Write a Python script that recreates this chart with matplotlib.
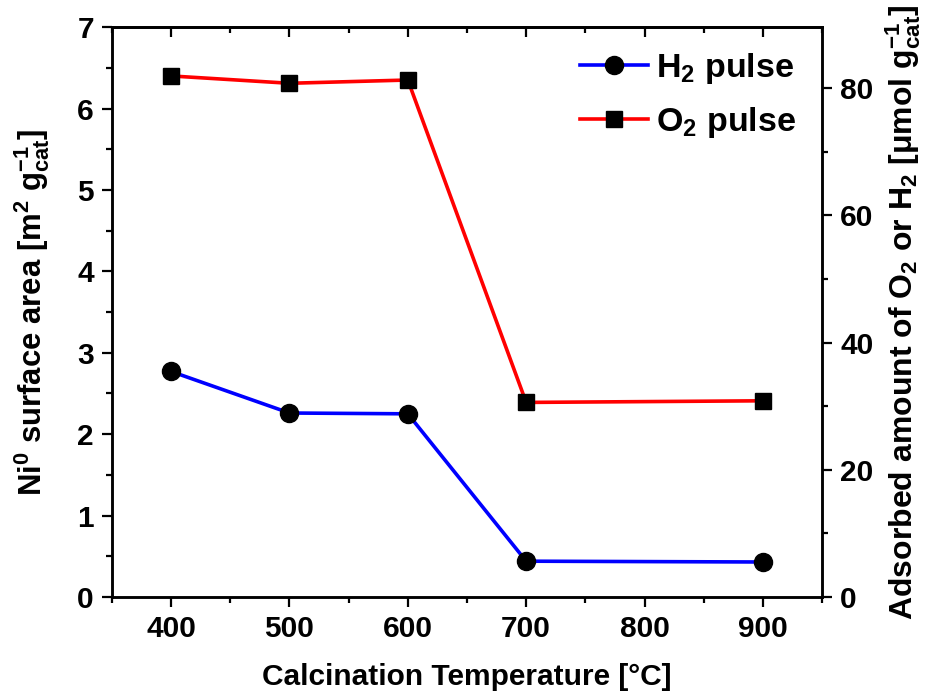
import numpy as np
import matplotlib.pyplot as plt
from matplotlib.ticker import MultipleLocator

# Calcination temperatures (degC)
temps = [400, 500, 600, 700, 900]
# Ni0 surface area read on the left axis [m2 g_cat^-1]
h2_pulse = [2.77, 2.26, 2.25, 0.44, 0.43]
o2_pulse = [6.40, 6.31, 6.35, 2.39, 2.41]

# right axis is the left one scaled (adsorbed amount, umol g_cat^-1)
scale = 12.8

plt.rcParams['font.family'] = ['Liberation Sans', 'DejaVu Sans']
plt.rcParams['font.weight'] = 'bold'
plt.rcParams['mathtext.default'] = 'regular'

fig = plt.figure(figsize=(9.3, 6.95), dpi=100)
ax = fig.add_axes([0.1204, 0.141, 0.7635, 0.820])

ax.plot(temps, h2_pulse, '-o', color='blue', lw=2.6, ms=13,
        mfc='black', mec='black', label='H$_2$ pulse')
ax.plot(temps, o2_pulse, '-s', color='red', lw=2.6, ms=12,
        mfc='black', mec='black', label='O$_2$ pulse')

ax.set_xlim(350, 950)
ax.set_ylim(0, 7)
ax.xaxis.set_major_locator(MultipleLocator(100))
ax.xaxis.set_minor_locator(MultipleLocator(50))
ax.yaxis.set_major_locator(MultipleLocator(1))
ax.yaxis.set_minor_locator(MultipleLocator(0.5))
ax.tick_params(which='major', direction='out', length=7, width=1.6,
               labelsize=21.5, pad=6)
ax.tick_params(which='minor', direction='out', length=4, width=1.6)

ax.set_xlabel('Calcination Temperature [°C]', fontsize=21.5,
              fontweight='bold', labelpad=14)
ax.set_ylabel('Ni$^0$ surface area [m$^2$ g$_{cat}^{-1}$]', fontsize=22.4,
              fontweight='bold', labelpad=18)

# top axis ticks point inward
top = ax.secondary_xaxis('top')
top.xaxis.set_major_locator(MultipleLocator(100))
top.xaxis.set_minor_locator(MultipleLocator(50))
top.tick_params(which='major', direction='in', length=7, width=1.6,
                labeltop=False)
top.tick_params(which='minor', direction='in', length=4, width=1.6)
top.spines['top'].set_linewidth(1.8)

ax2 = ax.twinx()
ax2.set_ylim(0, 7 * scale)
ax2.yaxis.set_major_locator(MultipleLocator(20))
ax2.yaxis.set_minor_locator(MultipleLocator(10))
ax2.tick_params(which='major', direction='out', length=7, width=1.6,
                labelsize=21.5, pad=6)
ax2.tick_params(which='minor', direction='out', length=4, width=1.6)
ax2.set_ylabel('Adsorbed amount of O$_2$ or H$_2$ [μmol g$_{cat}^{-1}$]',
               fontsize=23, fontweight='bold', labelpad=7)

for a in (ax, ax2):
    for s in a.spines.values():
        s.set_linewidth(1.8)

for lbl in ax.get_xticklabels() + ax.get_yticklabels() + ax2.get_yticklabels():
    lbl.set_fontweight('bold')

ax.legend(loc='upper right', frameon=False, fontsize=24.5, handlelength=2.0,
          handletextpad=0.25, labelspacing=0.55, borderaxespad=0.0,
          bbox_to_anchor=(0.983, 0.982))

fig.savefig('out.png', dpi=100)
